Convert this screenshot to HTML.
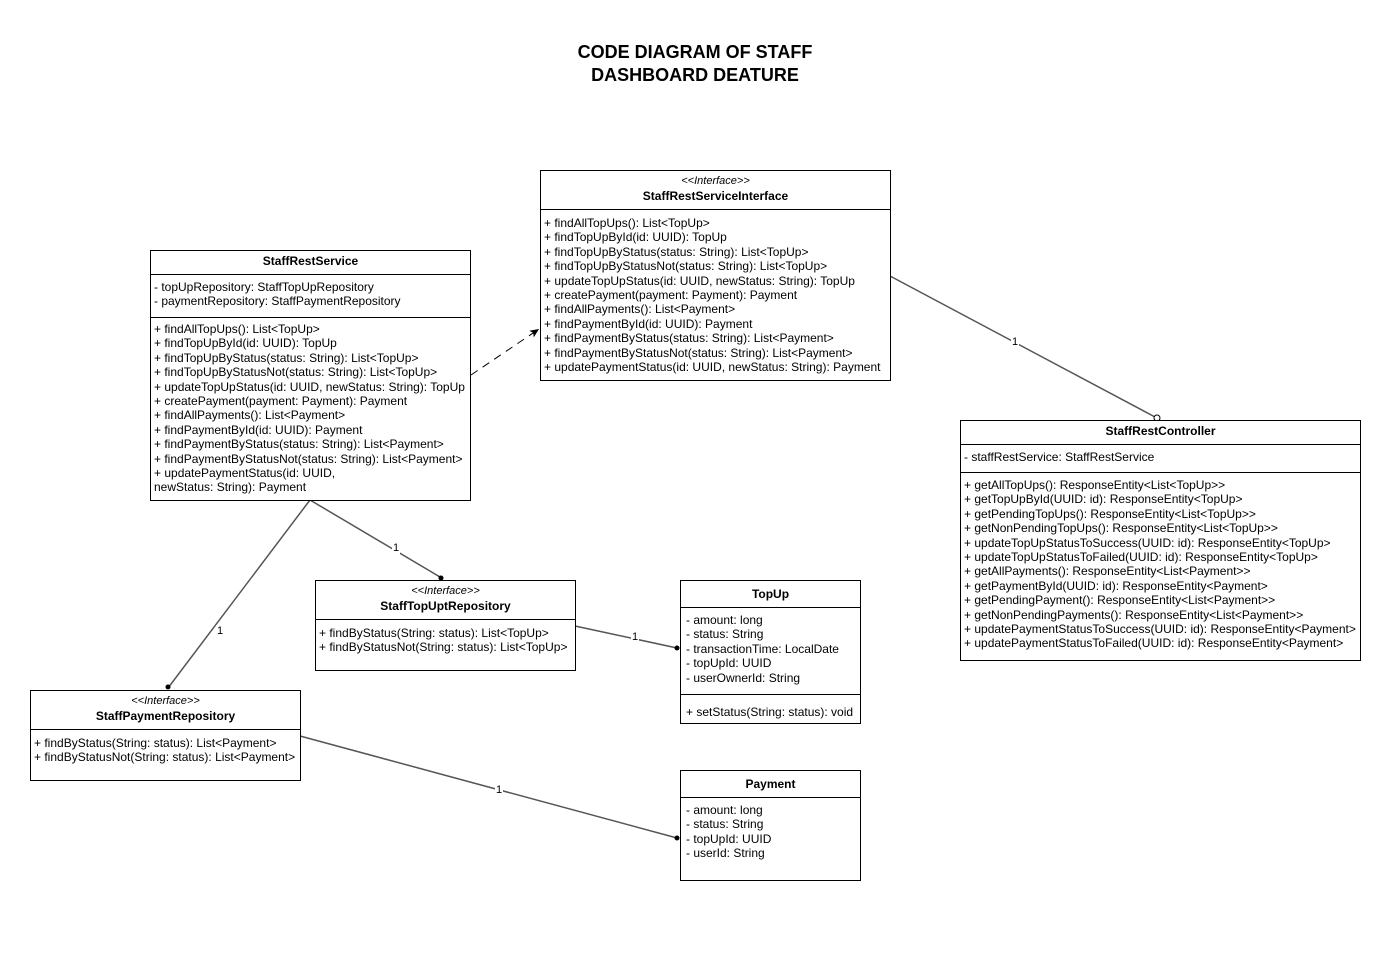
<!DOCTYPE html>
<html><head><meta charset="utf-8"><style>
html,body{margin:0;padding:0;background:#fff;}
body{width:1390px;height:980px;position:relative;overflow:hidden;font-family:"Liberation Sans",Arial,sans-serif;font-size:12px;color:#000;}
.box{position:absolute;border:1px solid #000;background:#fff;box-sizing:border-box;}
.hd{position:absolute;left:0;right:0;text-align:center;}
.st{font-style:italic;font-size:11px;}
.nm{font-weight:bold;}
.hr{position:absolute;left:0;right:0;border-top:1px solid #000;}
.sec{position:absolute;left:3px;right:0;line-height:14.4px;white-space:nowrap;}
.title{position:absolute;left:0;width:1390px;text-align:center;font-weight:bold;font-size:18px;line-height:23px;top:41px;}
svg{position:absolute;left:0;top:0;}
.lbl{position:absolute;font-size:11px;background:#fff;line-height:12px;padding:0 1px;}
</style></head><body>
<div class="title">CODE DIAGRAM OF STAFF<br>DASHBOARD DEATURE</div>

<svg width="1390" height="980">
<defs>
<marker id="ar" markerWidth="10" markerHeight="10" refX="9" refY="5" orient="auto" markerUnits="userSpaceOnUse"><path d="M0,1 L9,5 L0,9 L2,5 Z" fill="#000"/></marker>
</defs>
<line x1="471" y1="375" x2="539" y2="329" stroke="#000" stroke-width="1" stroke-dasharray="8,6" marker-end="url(#ar)"/>
<line x1="890" y1="276" x2="1155" y2="417" stroke="#555" stroke-width="1.5"/>
<circle cx="1157" cy="418" r="3" fill="#fff" stroke="#000"/>
<line x1="310" y1="500" x2="440" y2="577" stroke="#555" stroke-width="1.5"/>
<path d="M442,580 L437,575 L440,577 Z" fill="#000"/><circle cx="441" cy="578" r="2.5" fill="#000"/>
<line x1="310" y1="500" x2="168" y2="688" stroke="#555" stroke-width="1.5"/>
<circle cx="168" cy="687" r="2.5" fill="#000"/>
<line x1="575" y1="626" x2="677" y2="648" stroke="#555" stroke-width="1.5"/>
<circle cx="677" cy="648" r="2.5" fill="#000"/>
<line x1="300" y1="736" x2="677" y2="838" stroke="#555" stroke-width="1.5"/>
<circle cx="677" cy="838" r="2.5" fill="#000"/>
</svg>
<div class="lbl" style="left:1011px;top:336px">1</div>
<div class="lbl" style="left:392px;top:542px">1</div>
<div class="lbl" style="left:216px;top:625px">1</div>
<div class="lbl" style="left:631px;top:631px">1</div>
<div class="lbl" style="left:495px;top:784px">1</div>

<!-- StaffRestServiceInterface -->
<div class="box" style="left:540px;top:170px;width:351px;height:211px">
<div class="hd st" style="top:4px">&lt;&lt;Interface&gt;&gt;</div>
<div class="hd nm" style="top:18px">StaffRestServiceInterface</div>
<div class="hr" style="top:38px"></div>
<div class="sec" style="top:45px">+ findAllTopUps(): List&lt;TopUp&gt;<br>+ findTopUpById(id: UUID): TopUp<br>+ findTopUpByStatus(status: String): List&lt;TopUp&gt;<br>+ findTopUpByStatusNot(status: String): List&lt;TopUp&gt;<br>+ updateTopUpStatus(id: UUID, newStatus: String): TopUp<br>+ createPayment(payment: Payment): Payment<br>+ findAllPayments(): List&lt;Payment&gt;<br>+ findPaymentById(id: UUID): Payment<br>+ findPaymentByStatus(status: String): List&lt;Payment&gt;<br>+ findPaymentByStatusNot(status: String): List&lt;Payment&gt;<br>+ updatePaymentStatus(id: UUID, newStatus: String): Payment</div>
</div>

<!-- StaffRestService -->
<div class="box" style="left:150px;top:250px;width:321px;height:251px">
<div class="hd nm" style="top:3px">StaffRestService</div>
<div class="hr" style="top:23px"></div>
<div class="sec" style="top:29px">- topUpRepository: StaffTopUpRepository<br>- paymentRepository: StaffPaymentRepository</div>
<div class="hr" style="top:66px"></div>
<div class="sec" style="top:71px">+ findAllTopUps(): List&lt;TopUp&gt;<br>+ findTopUpById(id: UUID): TopUp<br>+ findTopUpByStatus(status: String): List&lt;TopUp&gt;<br>+ findTopUpByStatusNot(status: String): List&lt;TopUp&gt;<br>+ updateTopUpStatus(id: UUID, newStatus: String): TopUp<br>+ createPayment(payment: Payment): Payment<br>+ findAllPayments(): List&lt;Payment&gt;<br>+ findPaymentById(id: UUID): Payment<br>+ findPaymentByStatus(status: String): List&lt;Payment&gt;<br>+ findPaymentByStatusNot(status: String): List&lt;Payment&gt;<br>+ updatePaymentStatus(id: UUID,<br>newStatus: String): Payment</div>
</div>

<!-- StaffRestController -->
<div class="box" style="left:960px;top:420px;width:401px;height:241px">
<div class="hd nm" style="top:3px">StaffRestController</div>
<div class="hr" style="top:23px"></div>
<div class="sec" style="top:29px">- staffRestService: StaffRestService</div>
<div class="hr" style="top:51px"></div>
<div class="sec" style="top:57px">+ getAllTopUps(): ResponseEntity&lt;List&lt;TopUp&gt;&gt;<br>+ getTopUpById(UUID: id): ResponseEntity&lt;TopUp&gt;<br>+ getPendingTopUps(): ResponseEntity&lt;List&lt;TopUp&gt;&gt;<br>+ getNonPendingTopUps(): ResponseEntity&lt;List&lt;TopUp&gt;&gt;<br>+ updateTopUpStatusToSuccess(UUID: id): ResponseEntity&lt;TopUp&gt;<br>+ updateTopUpStatusToFailed(UUID: id): ResponseEntity&lt;TopUp&gt;<br>+ getAllPayments(): ResponseEntity&lt;List&lt;Payment&gt;&gt;<br>+ getPaymentById(UUID: id): ResponseEntity&lt;Payment&gt;<br>+ getPendingPayment(): ResponseEntity&lt;List&lt;Payment&gt;&gt;<br>+ getNonPendingPayments(): ResponseEntity&lt;List&lt;Payment&gt;&gt;<br>+ updatePaymentStatusToSuccess(UUID: id): ResponseEntity&lt;Payment&gt;<br>+ updatePaymentStatusToFailed(UUID: id): ResponseEntity&lt;Payment&gt;</div>
</div>

<!-- StaffTopUptRepository -->
<div class="box" style="left:315px;top:580px;width:261px;height:91px">
<div class="hd st" style="top:4px">&lt;&lt;Interface&gt;&gt;</div>
<div class="hd nm" style="top:18px">StaffTopUptRepository</div>
<div class="hr" style="top:38px"></div>
<div class="sec" style="top:45px">+ findByStatus(String: status): List&lt;TopUp&gt;<br>+ findByStatusNot(String: status): List&lt;TopUp&gt;</div>
</div>

<!-- TopUp -->
<div class="box" style="left:680px;top:580px;width:181px;height:144px">
<div class="hd nm" style="top:6px">TopUp</div>
<div class="hr" style="top:26px"></div>
<div class="sec" style="top:32px;left:5px">- amount: long<br>- status: String<br>- transactionTime: LocalDate<br>- topUpId: UUID<br>- userOwnerId: String</div>
<div class="hr" style="top:113px"></div>
<div class="sec" style="top:124px;left:5px">+ setStatus(String: status): void</div>
</div>

<!-- StaffPaymentRepository -->
<div class="box" style="left:30px;top:690px;width:271px;height:91px">
<div class="hd st" style="top:4px">&lt;&lt;Interface&gt;&gt;</div>
<div class="hd nm" style="top:18px">StaffPaymentRepository</div>
<div class="hr" style="top:38px"></div>
<div class="sec" style="top:45px">+ findByStatus(String: status): List&lt;Payment&gt;<br>+ findByStatusNot(String: status): List&lt;Payment&gt;</div>
</div>

<!-- Payment -->
<div class="box" style="left:680px;top:770px;width:181px;height:111px">
<div class="hd nm" style="top:6px">Payment</div>
<div class="hr" style="top:26px"></div>
<div class="sec" style="top:32px;left:5px">- amount: long<br>- status: String<br>- topUpId: UUID<br>- userId: String</div>
</div>
</body></html>
